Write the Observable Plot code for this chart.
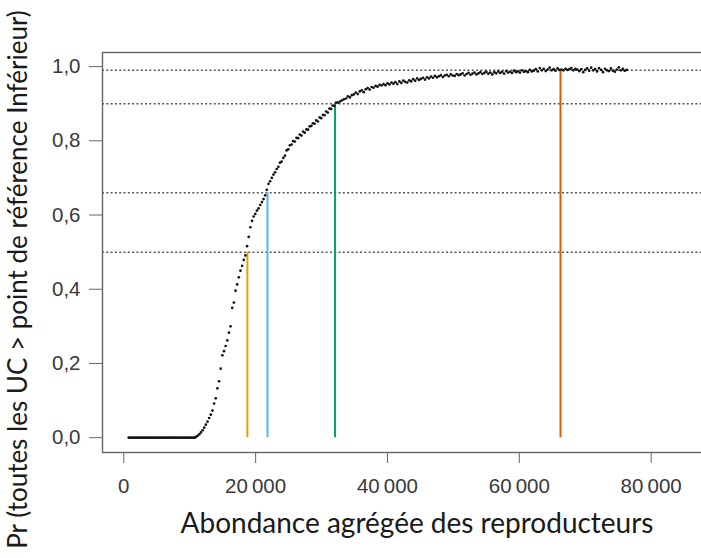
<!DOCTYPE html>
<html><head><meta charset="utf-8">
<script src="https://cdn.jsdelivr.net/npm/d3@7"></script>
<script src="https://cdn.jsdelivr.net/npm/@observablehq/plot@0.6"></script>
<style>body{margin:0;background:#fff;} #chart svg{overflow:hidden;display:block;}</style>
</head><body><div id="chart"></div>
<script>
// Courbe : [abondance, probabilité]
const plateauBas = [[750,0],[1000,0],[1250,0],[1500,0],[1750,0],[2000,0],[2250,0],[2500,0],[2750,0],[3000,0],[3250,0],[3500,0],[3750,0],[4000,0],[4250,0],[4500,0],[4750,0],[5000,0],[5250,0],[5500,0],[5750,0],[6000,0],[6250,0],[6500,0],[6750,0],[7000,0],[7250,0],[7500,0],[7750,0],[8000,0],[8250,0],[8500,0],[8750,0],[9000,0],[9250,0],[9500,0],[9750,0],[10000,0],[10250,0],[10500,0],[10750,0]];
const montee = [[10950,0.002],[11200,0.005],[11450,0.009],[11700,0.014],[11950,0.020],[12200,0.027],[12450,0.035],[12700,0.043],[12950,0.053],[13200,0.062],[13450,0.073],[13700,0.092],[13950,0.106],[14200,0.133],[14450,0.152],[14700,0.186],[14950,0.222],[15200,0.233],[15450,0.247],[15700,0.262],[15950,0.283],[16200,0.300],[16450,0.350],[16700,0.364],[16950,0.396],[17200,0.413],[17450,0.432],[17700,0.450],[17950,0.463],[18200,0.479],[18450,0.491],[18700,0.516],[18950,0.541],[19200,0.567],[19450,0.584],[19700,0.596],[19950,0.603],[20200,0.612],[20450,0.618],[20700,0.627],[20950,0.635],[21200,0.643],[21450,0.653],[21700,0.668],[21950,0.684],[22200,0.691],[22450,0.700],[22700,0.709],[22950,0.715],[23200,0.724],[23450,0.730],[23700,0.741],[23950,0.744],[24200,0.754],[24450,0.760],[24700,0.774],[24950,0.777],[25200,0.788],[25450,0.790],[25700,0.799],[25950,0.798],[26200,0.808],[26450,0.807],[26700,0.817],[26950,0.814],[27200,0.825],[27450,0.822],[27700,0.831],[27950,0.830],[28200,0.839],[28450,0.840],[28700,0.847],[28950,0.846],[29200,0.855],[29450,0.852],[29700,0.863],[29950,0.861],[30200,0.870],[30450,0.869],[30700,0.879],[30950,0.876],[31200,0.887],[31450,0.886],[31700,0.895],[31950,0.894],[32200,0.903]];
const plateauHaut = [[32500,0.903],[32800,0.906],[33100,0.909],[33400,0.912],[33700,0.914],[34000,0.920],[34300,0.917],[34600,0.923],[34900,0.925],[35200,0.930],[35500,0.926],[35800,0.933],[36100,0.936],[36400,0.931],[36700,0.939],[37000,0.942],[37300,0.938],[37600,0.945],[37900,0.943],[38200,0.948],[38500,0.946],[38800,0.951],[39100,0.949],[39400,0.953],[39700,0.950],[40000,0.955],[40300,0.952],[40600,0.957],[40900,0.954],[41200,0.958],[41500,0.953],[41800,0.960],[42100,0.956],[42400,0.962],[42700,0.959],[43000,0.957],[43300,0.963],[43600,0.960],[43900,0.966],[44200,0.962],[44500,0.968],[44800,0.964],[45100,0.967],[45400,0.970],[45700,0.965],[46000,0.971],[46300,0.968],[46600,0.973],[46900,0.970],[47200,0.975],[47500,0.971],[47800,0.974],[48100,0.977],[48400,0.972],[48700,0.976],[49000,0.978],[49300,0.974],[49600,0.979],[49900,0.976],[50200,0.975],[50500,0.980],[50800,0.977],[51100,0.979],[51400,0.982],[51700,0.976],[52000,0.980],[52300,0.983],[52600,0.978],[52900,0.981],[53200,0.984],[53500,0.979],[53800,0.982],[54100,0.985],[54400,0.980],[54700,0.983],[55000,0.986],[55300,0.981],[55600,0.984],[55900,0.979],[56200,0.985],[56500,0.982],[56800,0.987],[57100,0.983],[57400,0.986],[57700,0.981],[58000,0.988],[58300,0.984],[58600,0.986],[58900,0.983],[59200,0.989],[59500,0.985],[59800,0.987],[60100,0.984],[60400,0.990],[60700,0.986],[61000,0.988],[61300,0.985],[61600,0.991],[61900,0.987],[62200,0.989],[62500,0.993],[62800,0.987],[63100,0.996],[63400,0.990],[63700,0.994],[64000,0.988],[64300,0.992],[64600,0.997],[64900,0.990],[65200,0.993],[65500,0.989],[65800,0.995],[66100,0.991],[66400,0.992],[66700,0.990],[67000,0.994],[67300,0.991],[67600,0.993],[67900,0.996],[68200,0.990],[68500,0.994],[68800,0.992],[69100,0.988],[69400,0.993],[69700,0.985],[70000,0.991],[70300,0.995],[70600,0.989],[70900,0.997],[71200,0.990],[71500,0.993],[71800,0.987],[72100,0.996],[72400,0.991],[72700,0.985],[73000,0.994],[73300,0.990],[73600,0.988],[73900,0.995],[74200,0.989],[74500,0.986],[74800,0.992],[75100,0.998],[75400,0.990],[75700,0.994],[76000,0.989],[76300,0.991]];

const niveaux = [0.5, 0.66, 0.9, 0.99];
const seuilsX = [18750, 21800, 32050, 66250];
const seuilsY = [0.5, 0.66, 0.9, 0.99];
const couleurs = ["#E69F00", "#56B4E9", "#009E73", "#D55E00"];

const xTicks = [0, 20000, 40000, 60000, 80000];
const xTickLabels = ["0", "20\u2009000", "40\u2009000", "60\u2009000", "80\u2009000"];
const yTicks = [0, 0.2, 0.4, 0.6, 0.8, 1];
const yTickLabels = ["0,0", "0,2", "0,4", "0,6", "0,8", "1,0"];
const titreX = "Abondance agrégée des reproducteurs";
const titreY = "Pr (toutes les UC > point de référence Inférieur)";

const points = [...plateauBas, ...montee, ...plateauHaut].map(([x, y]) => ({x, y}));
const seuils = seuilsX.map((x, i) => ({x, y: seuilsY[i], c: couleurs[i]}));

const chart = Plot.plot({
  width: 701, height: 558,
  marginLeft: 102, marginRight: -30, marginTop: 52, marginBottom: 106,
  style: {background: "#fff", fontFamily: "'Liberation Sans', Arial, sans-serif"},
  x: {domain: [-3230, 92190]},
  y: {domain: [-0.04, 1.038]},
  marks: [
    Plot.ruleY(niveaux, {stroke: "#555", strokeWidth: 1.5, strokeDasharray: "2,2.3"}),
    Plot.ruleX(seuils, {x: "x", y1: 0, y2: "y", stroke: "c", strokeWidth: 2}),
    Plot.dot(points, {x: "x", y: "y", r: 1.35, fill: "#111"}),
    Plot.frame({stroke: "#666", strokeWidth: 1.4}),
    Plot.axisX({ticks: xTicks, tickSize: 11, tickPadding: 15, fontSize: 20.5, stroke: "#666", fill: "#3a3a3a",
      tickFormat: d => xTickLabels[xTicks.indexOf(d)], label: null}),
    Plot.axisY({ticks: yTicks, tickSize: 13, tickPadding: 9, fontSize: 20.5, stroke: "#666", fill: "#3a3a3a",
      tickFormat: d => yTickLabels[yTicks.indexOf(d)], label: null}),
    Plot.text([titreX], {text: d => d, frameAnchor: "bottom", dy: 80, fontSize: 28, fontFamily: "Lato", fill: "#1a1a1a"}),
    Plot.text([titreY], {text: d => d, frameAnchor: "left", textAnchor: "middle", dx: -84, dy: 27, rotate: -90, fontSize: 26, fontFamily: "Lato", fill: "#1a1a1a"})
  ]
});
document.getElementById("chart").appendChild(chart);
</script>
</body></html>
